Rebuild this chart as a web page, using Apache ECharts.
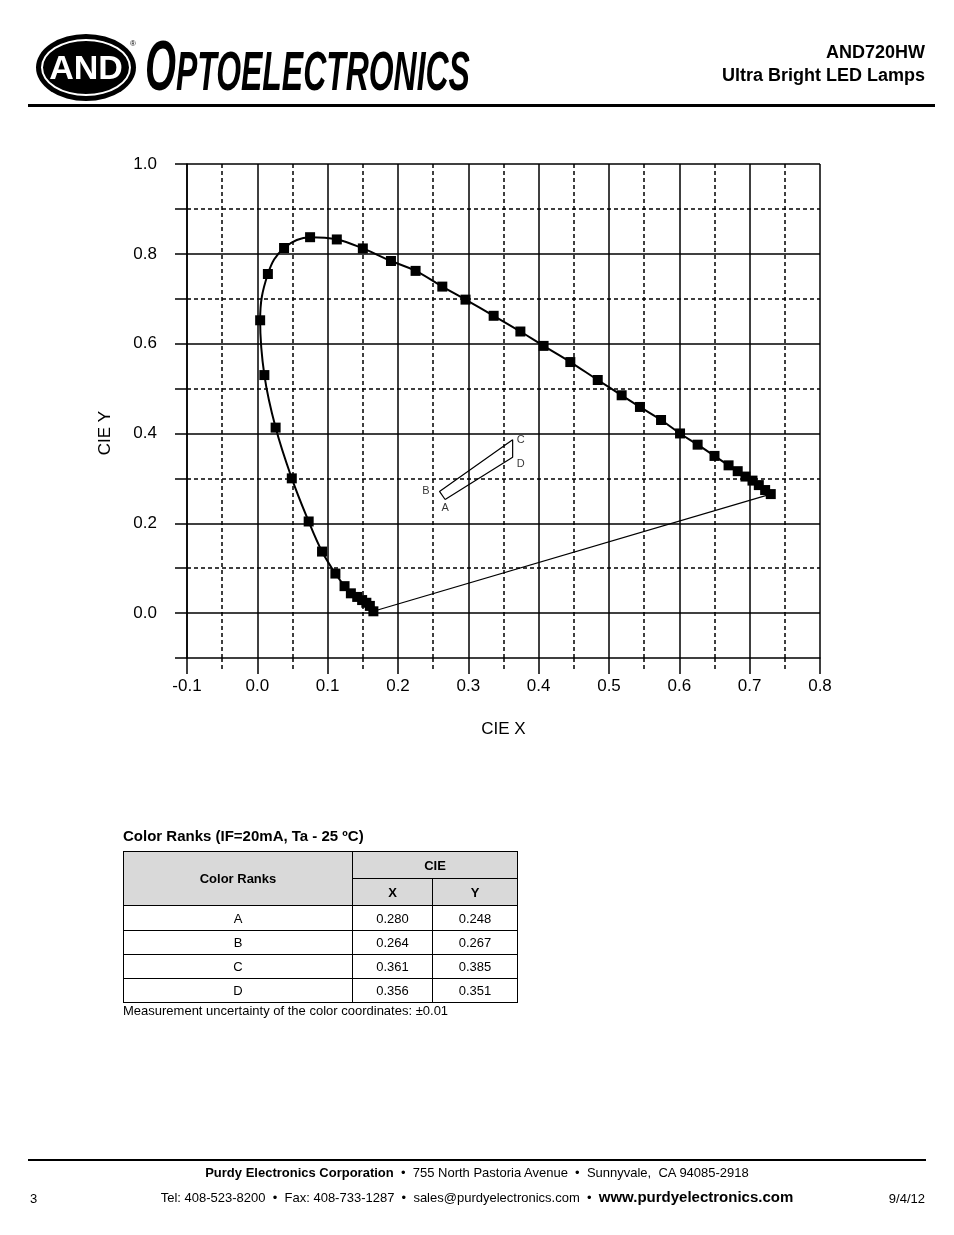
<!DOCTYPE html>
<html>
<head>
<meta charset="utf-8">
<script src="https://cdn.jsdelivr.net/npm/echarts/dist/echarts.min.js"></script>
<style>
  html, body { margin:0; padding:0; background:#fff; }
  body { width:954px; height:1235px; position:relative; overflow:hidden; font-family:"Liberation Sans", Arial, sans-serif; color:#000; }
  #chart { position:absolute; left:0; top:0; width:954px; height:1235px; z-index:1; }
  .abs { position:absolute; z-index:2; line-height:1; white-space:pre; }
  #logo { left:36px; top:34px; width:100px; height:67px; border-radius:50%; background:#000; }
  #logoRing { left:41px; top:39px; width:86px; height:53px; border-radius:50%; border:2px solid #fff; }
  #logoText { left:36px; top:50px; width:100px; text-align:center; color:#fff; font-weight:bold; font-size:34px; }
  #reg { left:130px; top:40px; font-size:8px; }
  #brand { left:145px; top:31px; font-weight:bold; font-style:italic; font-size:56px; line-height:70px; height:70px; transform:scaleX(0.57); transform-origin:0 0; }
  #brand .big { font-size:70px; }
  #hr1 { left:28px; top:104px; width:907px; height:3px; background:#000; }
  .title { right:29px; font-weight:bold; font-size:18px; text-align:right; }
  #tblTitle { left:123px; top:828px; font-weight:bold; font-size:15px; }
  #tbl { position:absolute; z-index:2; left:123px; top:851px; border-collapse:collapse; font-size:13px; }
  #tbl td { border:1px solid #000; text-align:center; padding:0; }
  #tbl .hd { background:#d9d9d9; font-weight:bold; }
  #note { left:123px; top:1004px; font-size:13px; }
  #hr2 { left:28px; top:1159px; width:898px; height:2px; background:#000; }
  #foot1 { left:0; width:954px; top:1166px; text-align:center; font-size:13px; }
  #foot2 { left:0; width:954px; top:1189px; text-align:center; font-size:13px; }
  #foot2 b { font-size:15px; }
  #pg { left:30px; top:1192px; font-size:13px; }
  #date { right:29px; top:1192px; font-size:13px; }
</style>
</head>
<body>
<div id="chart"></div>

<div class="abs" id="logo"></div>
<div class="abs" id="logoRing"></div>
<div class="abs" id="logoText">AND</div>
<div class="abs" id="reg">®</div>
<div class="abs" id="brand"><span class="big">O</span>PTOELECTRONICS</div>
<div class="abs title" style="top:43px;">AND720HW</div>
<div class="abs title" style="top:66px;">Ultra Bright LED Lamps</div>
<div class="abs" id="hr1"></div>

<div class="abs" id="tblTitle">Color Ranks (IF=20mA, Ta - 25 ºC)</div>
<table id="tbl"></table>
<div class="abs" id="note">Measurement uncertainty of the color coordinates: ±0.01</div>

<div class="abs" id="hr2"></div>
<div class="abs" id="foot1"><b>Purdy Electronics Corporation</b>  •  755 North Pastoria Avenue  •  Sunnyvale,  CA 94085-2918</div>
<div class="abs" id="foot2">Tel: 408-523-8200  •  Fax: 408-733-1287  •  sales@purdyelectronics.com  •  <b>www.purdyelectronics.com</b></div>
<div class="abs" id="pg">3</div>
<div class="abs" id="date">9/4/12</div>

<script>
// ---- Data ----
// Spectral locus markers (CIE x, CIE y), from the blue end (bottom) to the red end
const locusX = [0.165, 0.160, 0.155, 0.149, 0.142, 0.133, 0.124, 0.111, 0.092, 0.073, 0.049,
                0.026, 0.010, 0.004, 0.015, 0.038, 0.075, 0.113, 0.150, 0.190, 0.225, 0.263,
                0.296, 0.336, 0.374, 0.407, 0.445, 0.484, 0.518, 0.544, 0.574, 0.601, 0.626,
                0.650, 0.670, 0.683, 0.694, 0.704, 0.713, 0.722, 0.730];
const locusY = [0.004, 0.016, 0.023, 0.029, 0.036, 0.044, 0.060, 0.088, 0.137, 0.204, 0.300,
                0.413, 0.530, 0.652, 0.755, 0.813, 0.837, 0.832, 0.812, 0.784, 0.762, 0.727,
                0.698, 0.662, 0.627, 0.595, 0.559, 0.519, 0.485, 0.459, 0.430, 0.400, 0.375,
                0.350, 0.329, 0.316, 0.304, 0.295, 0.285, 0.274, 0.265];

// Colour-rank box corners as drawn (A, B, C, D)
const rankNames = ['A', 'B', 'C', 'D'];
const boxX = [0.267, 0.259, 0.363, 0.363];
const boxY = [0.253, 0.271, 0.386, 0.347];

// Table values
const rankCieX = ['0.280', '0.264', '0.361', '0.356'];
const rankCieY = ['0.248', '0.267', '0.385', '0.351'];

// Horizontal grid / tick label values
const ySolidGrid = [0.0, 0.2, 0.4, 0.6, 0.8, 1.0];
const yDashedGrid = [0.1, 0.3, 0.5, 0.7, 0.9];

// ---- Table ----
(function () {
  let h = '<tr style="height:27px"><td class="hd" rowspan="2" style="width:228px">Color Ranks</td>' +
          '<td class="hd" colspan="2">CIE</td></tr>' +
          '<tr style="height:27px"><td class="hd" style="width:79px">X</td><td class="hd" style="width:84px">Y</td></tr>';
  const rh = [25, 24, 24, 24];
  for (let i = 0; i < rankNames.length; i++) {
    h += '<tr style="height:' + rh[i] + 'px"><td>' + rankNames[i] + '</td><td>' + rankCieX[i] + '</td><td>' + rankCieY[i] + '</td></tr>';
  }
  document.getElementById('tbl').innerHTML = h;
})();

// ---- Chart ----
const FONT = 'Liberation Sans';
const locus = locusX.map((x, i) => [x, locusY[i]]);
const purple = [locus[0], locus[locus.length - 1]];
const order = [0, 3, 2, 1, 0];
const box = order.map(i => [boxX[i], boxY[i]]);
const labelPos = { A: { position: 'bottom', distance: 3 }, B: { position: 'left', distance: 10 },
                   C: { position: 'right', distance: 4 }, D: { position: 'right', distance: 4, offset: [0, 7] } };
const boxLabels = rankNames.map((n, i) => ({ value: [boxX[i], boxY[i]], name: n, label: Object.assign({ show: true }, labelPos[n]) }));

const solidLS = { color: '#000', width: 1.5, type: 'solid' };
const dashLS = { color: '#000', width: 1.5, type: [4, 3] };
const gridLines = ySolidGrid.map(v => ({ yAxis: v, lineStyle: solidLS }))
  .concat(yDashedGrid.map(v => ({ yAxis: v, lineStyle: dashLS })));

const chart = echarts.init(document.getElementById('chart'), null, { renderer: 'canvas' });
chart.setOption({
  animation: false,
  grid: { left: 187, top: 164, width: 633, height: 494, containLabel: false },
  xAxis: {
    type: 'value', min: -0.1, max: 0.8, interval: 0.1,
    axisLine: { show: true, onZero: false, lineStyle: { color: '#000', width: 1.5 } },
    axisTick: { show: true, length: 16, lineStyle: { color: '#000', width: 1.5 } },
    minorTick: { show: true, splitNumber: 2, length: 14, lineStyle: { color: '#000', width: 1.5, type: [4, 3] } },
    splitLine: { show: true, lineStyle: { color: '#000', width: 1.5 } },
    minorSplitLine: { show: true, lineStyle: { color: '#000', width: 1.5, type: [4, 3] } },
    axisLabel: { margin: 20, fontSize: 17, color: '#000', fontFamily: FONT, formatter: v => v.toFixed(1) },
    name: 'CIE X', nameLocation: 'middle', nameGap: 63,
    nameTextStyle: { fontSize: 17, color: '#000', fontFamily: FONT }
  },
  yAxis: {
    type: 'value', min: -0.1, max: 1.0, interval: 0.1,
    axisLine: { show: true, onZero: false, lineStyle: { color: '#000', width: 1.5 } },
    axisTick: { show: true, length: 12, lineStyle: { color: '#000', width: 1.5 } },
    splitLine: { show: false },
    axisLabel: {
      margin: 30, fontSize: 17, color: '#000', fontFamily: FONT,
      formatter: v => { const k = Math.round(v * 10); return (k >= 0 && k % 2 === 0) ? (k / 10).toFixed(1) : ''; }
    }
  },
  graphic: [{
    type: 'text', x: 105, y: 433, rotation: Math.PI / 2,
    style: { text: 'CIE Y', fontSize: 17, fontFamily: FONT, fill: '#000', align: 'center', verticalAlign: 'middle', textAlign: 'center', textVerticalAlign: 'middle' }
  }],
  series: [
    {
      type: 'line', data: box, z: 2, symbol: 'none', silent: true,
      lineStyle: { color: '#000', width: 1.2 },
      markLine: { silent: true, symbol: ['none', 'none'], label: { show: false }, data: gridLines, animation: false }
    },
    {
      type: 'scatter', data: boxLabels, symbolSize: 0, z: 4, silent: true,
      label: { color: '#000', fontSize: 11, fontFamily: FONT, formatter: p => p.name }
    },
    {
      type: 'line', data: purple, z: 3, symbol: 'none', silent: true,
      lineStyle: { color: '#000', width: 1.2 }
    },
    {
      type: 'line', data: locus, z: 5, smooth: 0.4, symbol: 'rect', symbolSize: 10, silent: true,
      itemStyle: { color: '#000' }, lineStyle: { color: '#000', width: 2 }
    }
  ]
});
</script>
</body>
</html>
